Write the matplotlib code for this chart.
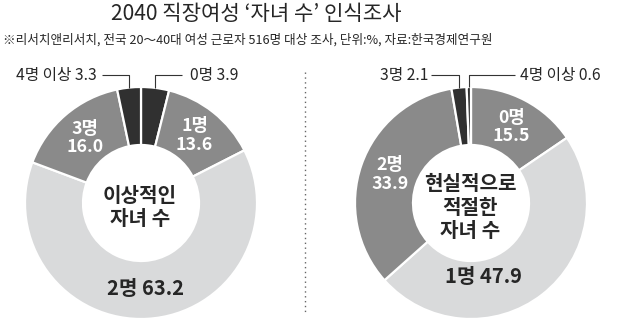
import matplotlib
matplotlib.use("Agg")
import matplotlib.pyplot as plt
import numpy as np

plt.rcParams['font.family'] = ['Noto Sans CJK KR', 'DejaVu Sans']

# ---- data ----
title = "2040 직장여성 ‘자녀 수’ 인식조사"
subtitle = "※리서치앤리서치, 전국 20～40대 여성 근로자 516명 대상 조사, 단위:%, 자료:한국경제연구원"

ideal_categories = ['0명', '1명', '2명', '3명', '4명 이상']
ideal_values = [3.9, 13.6, 63.2, 16.0, 3.3]
ideal_center_label = "이상적인\n자녀 수"

real_categories = ['0명', '1명', '2명', '3명', '4명 이상']
real_values = [15.5, 47.9, 33.9, 2.1, 0.6]
real_center_label = "현실적으로\n적절한\n자녀 수"

# ---- styles ----
DARK = '#303030'
MID = '#8a8a8a'
LIGHT = '#d9dadb'
TXT = '#262626'

W, H = 620, 322
fig = plt.figure(figsize=(W / 100, H / 100), dpi=100)
ax = fig.add_axes([0, 0, 1, 1])


def py(y):
    return H - y


R = 116
charts = [
    dict(cats=ideal_categories, vals=ideal_values, center=(141, py(203)),
         colors=[DARK, MID, LIGHT, MID, DARK], inner=ideal_center_label,
         place=[('out', 'right', 190, 182), 'in', 'in1', 'in', ('out', 'left', 97, 102)],
         angle_override={}),
    dict(cats=real_categories, vals=real_values, center=(471, py(203)),
         colors=[MID, LIGHT, MID, DARK, DARK], inner=real_center_label,
         place=['in', 'in1', 'in', ('out', 'left', 428, 431), ('out', 'right', 520, 515)],
         angle_override={1: (170.0, 0.64)}),
]

for ch in charts:
    cx, cy = ch['center']
    wedges, _ = ax.pie(ch['vals'], colors=ch['colors'], startangle=90,
                       counterclock=False, center=(cx, cy), radius=R,
                       wedgeprops=dict(width=R * 0.5, edgecolor='white', linewidth=1.6))
    for i, (w, cat, val) in enumerate(zip(wedges, ch['cats'], ch['vals'])):
        mid = np.deg2rad((w.theta1 + w.theta2) / 2)
        pl = ch['place'][i]
        col = ch['colors'][i]
        txtcol = 'white' if col == MID else TXT
        if isinstance(pl, tuple):
            _, side, xt, xline = pl
            xv = cx + R * np.cos(mid)
            yv = cy + R * np.sin(mid)
            yl = py(75)
            ax.plot([xv, xv, xline], [yv, yl, yl], color='#333333', lw=0.8,
                    solid_capstyle='butt', zorder=5)
            ax.text(xt, yl, f"{cat} {val:.1f}", ha='left' if side == 'right' else 'right',
                    va='center', fontsize=11.3, color=TXT)
        else:
            if i in ch['angle_override']:
                ang, frac = ch['angle_override'][i]
                a = np.deg2rad(90 - ang)
                rho = R * frac
            else:
                a = mid
                rho = R * 0.74
            tx = cx + rho * np.cos(a)
            ty = cy + rho * np.sin(a)
            if pl == 'in':
                s = f"{cat}\n{val:.1f}"
                ax.text(tx, ty, s, ha='center', va='center', fontsize=12.8,
                        color=txtcol, fontweight='bold', linespacing=1.05)
            else:
                ax.text(tx, ty, f"{cat} {val:.1f}", ha='center', va='center',
                        fontsize=14.5, color=txtcol, fontweight='bold')
    ax.text(cx - 1, cy - 4, ch['inner'], ha='center', va='center', fontsize=14.5,
            color=TXT, fontweight='bold', linespacing=1.15)

# divider
ax.plot([305, 305], [py(72), py(313)], color='#666666', lw=1.0,
        linestyle=(0, (1, 2.5)))

ax.text(256, py(14), title, ha='center', va='center', fontsize=15.2, color=TXT)
ax.text(3, py(40), subtitle, ha='left', va='center', fontsize=9.1, color=TXT)

ax.set_xlim(0, W)
ax.set_ylim(0, H)
ax.set_aspect('auto')
ax.axis('off')

fig.savefig('out.png', dpi=100, facecolor='white')
